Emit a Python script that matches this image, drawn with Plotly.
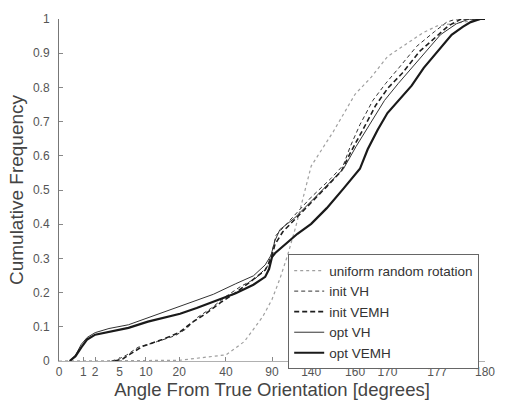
import numpy as np
import plotly.graph_objects as go

# Warped angle axis: tick angles (degrees) and where each sits along the axis (0..1)
tick_angles = [0, 1, 2, 5, 10, 20, 40, 90, 140, 160, 170, 177, 180]
tick_pos = [0, 0.057, 0.085, 0.142, 0.204, 0.282, 0.392, 0.5, 0.592, 0.695, 0.771, 0.888, 1.0]
tick_text = [str(a) for a in tick_angles]

y_ticks = [0, 0.1, 0.2, 0.3, 0.4, 0.5, 0.6, 0.7, 0.8, 0.9, 1.0]
y_text = ["0", "0.1", "0.2", "0.3", "0.4", "0.5", "0.6", "0.7", "0.8", "0.9", "1"]

# Cumulative frequency of the angular error, per method
uniform_angle = [0, 20, 40, 60, 80, 90, 100, 110, 120, 130, 140, 150, 160, 165, 170, 175, 177, 180]
uniform_cdf = [0, 0.002, 0.018, 0.057, 0.13, 0.18, 0.24, 0.31, 0.39, 0.48, 0.57, 0.67, 0.78, 0.83, 0.89, 0.96, 0.98, 1.0]

init_vh_angle = [4.0, 4.9, 6.3, 8.5, 13.5, 18.8, 23.3, 27.5, 33.8, 40, 56, 71.9, 84.7, 90, 95, 106.3,
                 122.5, 140, 148.9, 154.7, 157.8, 161.5, 165.5, 169.4, 171.6, 174.1, 176.6, 177.6, 178.2, 180]
init_vh_cdf = [0, 0.006, 0.017, 0.040, 0.057, 0.074, 0.095, 0.126, 0.155, 0.189, 0.218, 0.241, 0.275, 0.318,
               0.367, 0.395, 0.436, 0.479, 0.533, 0.573, 0.627, 0.691, 0.762, 0.811, 0.857, 0.920, 0.963,
               0.991, 1.0, 1.0]

init_vemh_angle = [4.4, 5.6, 7.0, 9.4, 15.0, 20, 25.4, 31.7, 37.9, 50.6, 66.6, 82.6, 88.9, 93.8, 103.8,
                   118.8, 140, 147.1, 153.8, 158.2, 162.4, 166.4, 170.1, 172.1, 174.5, 176.9, 177.7, 178.5, 180]
init_vemh_cdf = [0, 0.006, 0.020, 0.043, 0.063, 0.083, 0.112, 0.140, 0.172, 0.200, 0.232, 0.266, 0.298,
                 0.341, 0.378, 0.413, 0.461, 0.510, 0.556, 0.613, 0.676, 0.748, 0.799, 0.842, 0.905,
                 0.948, 0.980, 1.0, 1.0]

opt_vh_angle = [0.44, 0.68, 0.92, 1.33, 2.0, 3.7, 6.7, 10.6, 20.4, 34.6, 50.6, 69.8, 82.6, 88.9, 93.8,
                100, 118.8, 140, 147.1, 154.7, 160.3, 164.8, 169.1, 171.5, 173.4, 175.5, 177.2, 178.2,
                179.0, 180]
opt_vh_cdf = [0, 0.017, 0.049, 0.069, 0.083, 0.095, 0.106, 0.126, 0.160, 0.195, 0.226, 0.249, 0.281, 0.309,
              0.352, 0.384, 0.418, 0.467, 0.513, 0.562, 0.627, 0.696, 0.762, 0.811, 0.857, 0.905, 0.954,
              0.986, 1.0, 1.0]

opt_vemh_angle = [0.44, 0.68, 0.92, 1.33, 2.0, 3.7, 6.7, 10.6, 20.4, 27.5, 37.1, 50.6, 69.8, 82.6, 86.8,
                  90, 93.8, 106.3, 122.5, 140, 147.1, 154.7, 161.5, 163.9, 167, 170, 171.6, 173.4, 175.1,
                  177, 177.9, 178.6, 179.1, 179.7, 180]
opt_vemh_cdf = [0, 0.014, 0.040, 0.063, 0.077, 0.086, 0.097, 0.115, 0.138, 0.155, 0.181, 0.198, 0.223,
                0.246, 0.269, 0.304, 0.315, 0.341, 0.372, 0.401, 0.447, 0.504, 0.562, 0.619, 0.676,
                0.725, 0.762, 0.805, 0.857, 0.905, 0.954, 0.977, 0.991, 1.0, 1.0]


def warp(angles):
    """Map angles in degrees onto the warped axis coordinate."""
    return np.interp(np.asarray(angles, dtype=float), tick_angles, tick_pos)


series = [
    ("uniform random rotation", uniform_angle, uniform_cdf, dict(color="#a0a0a0", width=1.2, dash="dot")),
    ("init VH", init_vh_angle, init_vh_cdf, dict(color="#333333", width=1.0, dash="4px,3px")),
    ("init VEMH", init_vemh_angle, init_vemh_cdf, dict(color="#1e1e1e", width=1.6, dash="5px,3px")),
    ("opt VH", opt_vh_angle, opt_vh_cdf, dict(color="#333333", width=1.0)),
    ("opt VEMH", opt_vemh_angle, opt_vemh_cdf, dict(color="#1a1a1a", width=2.2)),
]

fig = go.Figure()
for name, ang, cdf, line in series:
    fig.add_trace(go.Scatter(x=warp(ang), y=cdf, mode="lines", name=name, line=line))

fig.update_layout(
    width=507, height=408,
    margin=dict(l=59, r=12, t=17, b=42),
    paper_bgcolor="white", plot_bgcolor="white",
    font=dict(family="Liberation Sans, Arial, sans-serif", color="#444444", size=12),
    showlegend=True,
    legend=dict(
        x=0.538, y=0.312, xanchor="left", yanchor="top",
        bgcolor="white", bordercolor="#666666", borderwidth=1,
        font=dict(size=13.5, color="#333333"),
        itemwidth=30, tracegroupgap=0,
    ),
    xaxis=dict(
        range=[0, 1], tickmode="array", tickvals=list(warp(tick_angles)), ticktext=tick_text,
        ticks="inside", ticklen=4, tickcolor="#888888", showgrid=False, zeroline=False,
        showline=True, linecolor="#b0b0b0", linewidth=1,
        tickfont=dict(size=12, color="#555555"),
        title=dict(text="Angle From True Orientation [degrees]", font=dict(size=18.5, color="#444444"),
                   standoff=4),
    ),
    yaxis=dict(
        range=[0, 1], tickmode="array", tickvals=y_ticks, ticktext=y_text,
        ticks="inside", ticklen=4, tickcolor="#888888", showgrid=False, zeroline=False,
        showline=True, linecolor="#777777", linewidth=1,
        tickfont=dict(size=12, color="#555555"), ticklabelstandoff=6,
        title=dict(text="Cumulative Frequency", font=dict(size=19, color="#444444"), standoff=4),
    ),
)

fig.write_html("out.html")
